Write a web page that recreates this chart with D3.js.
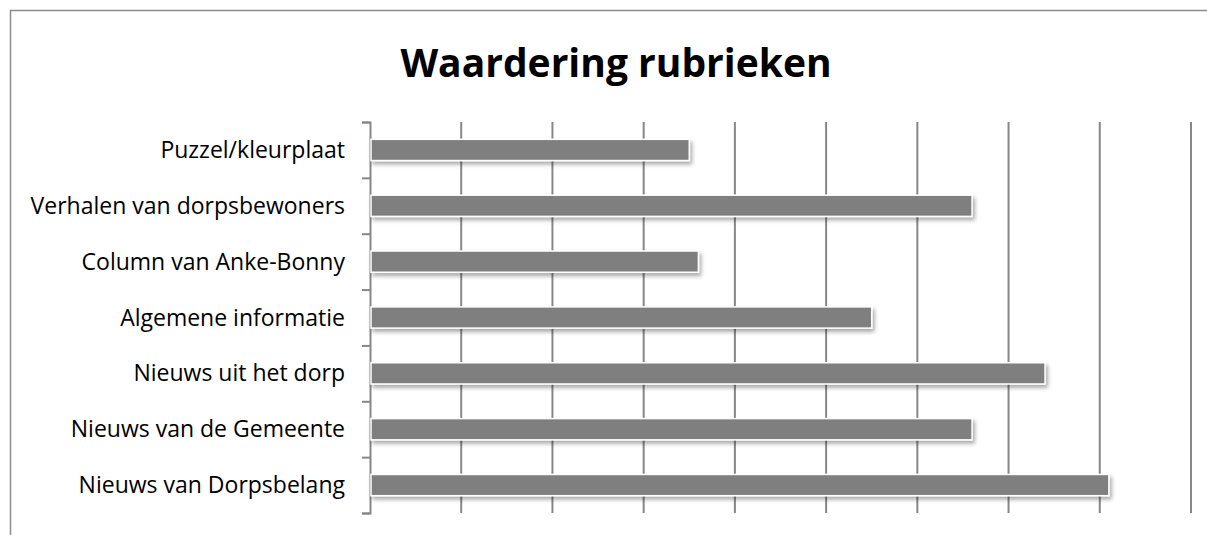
<!DOCTYPE html>
<html>
<head>
<meta charset="utf-8">
<script src="https://cdn.jsdelivr.net/npm/d3@7"></script>
<style>
  body { margin: 0; background: #fff; }
  svg { display: block; font-family: "Open Sans", sans-serif; }
</style>
</head>
<body>
<svg id="chart" width="1207" height="535"></svg>
<script>
const svg = d3.select("#chart");

const categories = [
    "Puzzel/kleurplaat",
    "Verhalen van dorpsbewoners",
    "Column van Anke-Bonny",
    "Algemene informatie",
    "Nieuws uit het dorp",
    "Nieuws van de Gemeente",
    "Nieuws van Dorpsbelang"
];
const values = [3.5, 6.6, 3.6, 5.5, 7.4, 6.6, 8.1];
const xTicks = [0, 1, 2, 3, 4, 5, 6, 7, 8, 9];

const plotLeft = 370, plotRight = 1191, plotTop = 122, plotBottom = 513;

const x = d3.scaleLinear().domain([0, 9]).range([plotLeft, plotRight]);
const y = d3.scaleBand().domain(categories).range([plotTop, plotBottom]).paddingInner(0.62).paddingOuter(0.31);

// drop shadow for the bars
const defs = svg.append("defs");
const f = defs.append("filter").attr("id", "shadow")
    .attr("x", "-5%").attr("y", "-50%").attr("width", "115%").attr("height", "250%");
f.append("feDropShadow").attr("dx", 2).attr("dy", 3).attr("stdDeviation", 2)
    .attr("flood-color", "#000").attr("flood-opacity", 0.35);

// outer frame (cut off at right and bottom)
svg.append("rect")
    .attr("x", 10.5).attr("y", 10.5).attr("width", 1300).attr("height", 600)
    .attr("fill", "none").attr("stroke", "#8c8c8c").attr("stroke-width", 1.5);

svg.append("text")
    .attr("x", 616).attr("y", 77)
    .attr("text-anchor", "middle")
    .attr("font-size", 39).attr("font-weight", "bold")
    .attr("fill", "#000")
    .text("Waardering rubrieken");

// vertical gridlines
svg.append("g")
    .selectAll("line")
    .data(xTicks.slice(1))
    .join("line")
    .attr("x1", d => x(d)).attr("x2", d => x(d))
    .attr("y1", plotTop).attr("y2", plotBottom)
    .attr("stroke", "#878787").attr("stroke-width", 2);

// category axis
const yAxis = d3.axisLeft(d3.scaleLinear().domain([0, categories.length]).range([plotBottom, plotTop]))
    .ticks(categories.length).tickSize(8).tickFormat("");
const ag = svg.append("g").attr("transform", `translate(${plotLeft},0)`).call(yAxis);
ag.select(".domain").attr("stroke", "#878787").attr("stroke-width", 2);
ag.selectAll(".tick line").attr("stroke", "#878787").attr("stroke-width", 2);

svg.append("g")
    .selectAll("text")
    .data(categories)
    .join("text")
    .attr("x", 345)
    .attr("y", d => y(d) + y.bandwidth() / 2)
    .attr("dy", "0.35em")
    .attr("text-anchor", "end")
    .attr("font-size", 23)
    .attr("fill", "#000")
    .text(d => d);

svg.append("g")
    .selectAll("rect")
    .data(values)
    .join("rect")
    .attr("x", x(0) + 1)
    .attr("y", (d, i) => y(categories[i]))
    .attr("width", d => x(d) - x(0) - 1)
    .attr("height", y.bandwidth())
    .attr("fill", "#7f7f7f")
    .attr("stroke", "#fff").attr("stroke-width", 1.5)
    .attr("filter", "url(#shadow)");
</script>
</body>
</html>
